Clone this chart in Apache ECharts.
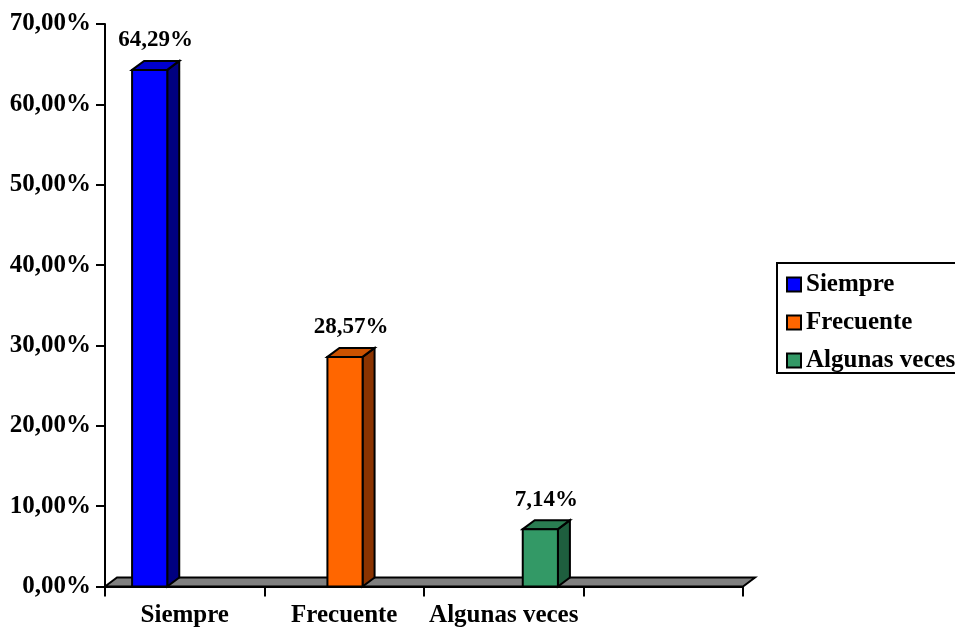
<!DOCTYPE html>
<html>
<head>
<meta charset="utf-8">
<script src="https://cdn.jsdelivr.net/npm/echarts@6/dist/echarts.min.js"></script>
<style>
  html, body { margin: 0; padding: 0; background: #ffffff; }
  #chart { width: 955px; height: 630px; }
</style>
</head>
<body>
<div id="chart"></div>
<script>
// Response categories and their shares (percent)
const categories = ['Siempre', 'Frecuente', 'Algunas veces'];
const values = [64.29, 28.57, 7.14];
// Axis slots along the floor (the last one is left empty)
const axisSlots = ['Siempre', 'Frecuente', 'Algunas veces', ''];
// Face colours of each column: front, side, top
const frontColors = ['#0000FF', '#FF6600', '#339966'];
const sideColors = ['#000080', '#8A3300', '#1E5E3E'];
const topColors = ['#0000CC', '#CC5200', '#2A7D52'];

const FONT = '"Times New Roman", "Liberation Serif", serif';
const DX = 12, DY = 9; // depth offset of the 3D look

function pct(v) {
  return v.toFixed(2).replace('.', ',') + '%';
}

const chart = echarts.init(document.getElementById('chart'));

// Grey floor drawn along the value 0 line of the visible axes
const floorSeries = {
  type: 'custom',
  xAxisIndex: 0,
  yAxisIndex: 0,
  silent: true,
  z: 1,
  data: [[0, 0]],
  renderItem: function (params, api) {
    const cs = params.coordSys;
    const base = api.coord([0, 0])[1];
    const x0 = cs.x, x1 = cs.x + cs.width;
    return {
      type: 'polygon',
      shape: { points: [[x0, base], [x0 + DX, base - DY], [x1 + DX, base - DY], [x1, base]] },
      style: { fill: '#808080', stroke: '#000000', lineWidth: 2 }
    };
  }
};

// One 3D column per category
const barSeries = categories.map(function (name, i) {
  return {
    type: 'custom',
    name: name,
    xAxisIndex: 1,
    yAxisIndex: 1,
    z: 2,
    itemStyle: { color: frontColors[i] },
    data: [[name, values[i]]],
    renderItem: function (params, api) {
      const idx = api.value(0);
      const val = api.value(1);
      const topPt = api.coord([idx, val]);
      const basePt = api.coord([idx, 0]);
      const hw = api.size([1, 0])[0] * 0.18 / 2;
      const xl = topPt[0] - hw, xr = topPt[0] + hw;
      const top = topPt[1], base = basePt[1];
      const stroke = { stroke: '#000000', lineWidth: 2, lineJoin: 'miter' };
      return {
        type: 'group',
        children: [
          {
            type: 'polygon',
            shape: { points: [[xr, top], [xr + DX, top - DY], [xr + DX, base - DY], [xr, base]] },
            style: Object.assign({ fill: sideColors[i] }, stroke)
          },
          {
            type: 'polygon',
            shape: { points: [[xl, top], [xl + DX, top - DY], [xr + DX, top - DY], [xr, top]] },
            style: Object.assign({ fill: topColors[i] }, stroke)
          },
          {
            type: 'rect',
            shape: { x: xl, y: top, width: xr - xl, height: base - top },
            style: Object.assign({ fill: frontColors[i] }, stroke)
          },
          {
            type: 'text',
            style: {
              x: topPt[0] + DX / 2,
              y: top - DY - 9,
              text: pct(val),
              fill: '#000000',
              font: 'bold 23px ' + FONT,
              textAlign: 'center',
              textVerticalAlign: 'bottom'
            }
          }
        ]
      };
    }
  };
});

const option = {
  backgroundColor: '#ffffff',
  animation: false,
  legend: {
    orient: 'vertical',
    left: 777,
    top: 263,
    padding: [9, 20, 0, 9],
    itemGap: 13,
    itemWidth: 14,
    itemHeight: 14,
    borderColor: '#000000',
    borderWidth: 2,
    backgroundColor: '#ffffff',
    textStyle: { fontFamily: FONT, fontWeight: 'bold', fontSize: 25, color: '#000000', lineHeight: 25 },
    data: categories.map(function (name, i) {
      return {
        name: name,
        icon: 'rect',
        itemStyle: { color: frontColors[i], borderColor: '#000000', borderWidth: 2 }
      };
    })
  },
  grid: [
    { left: 105, right: 212, top: 24, bottom: 43.5 },
    { left: 52, right: 317, top: 24, bottom: 43.5 }
  ],
  xAxis: [
    {
      type: 'category',
      gridIndex: 0,
      data: axisSlots,
      boundaryGap: true,
      axisLine: { show: true, lineStyle: { color: '#000000', width: 2 } },
      axisTick: { show: true, interval: 0, length: 10, lineStyle: { color: '#000000', width: 2 } },
      axisLabel: {
        interval: 0,
        margin: 17,
        fontFamily: FONT,
        fontWeight: 'bold',
        fontSize: 25,
        color: '#000000'
      },
      splitLine: { show: false }
    },
    {
      type: 'category',
      gridIndex: 1,
      data: categories,
      show: false
    }
  ],
  yAxis: [
    {
      type: 'value',
      gridIndex: 0,
      min: 0,
      max: 70,
      interval: 10,
      axisLine: { show: true, lineStyle: { color: '#000000', width: 2 } },
      axisTick: { show: true, length: 9, lineStyle: { color: '#000000', width: 2 } },
      axisLabel: {
        margin: 14,
        formatter: function (v) { return pct(v); },
        fontFamily: FONT,
        fontWeight: 'bold',
        fontSize: 25,
        color: '#000000'
      },
      splitLine: { show: false }
    },
    {
      type: 'value',
      gridIndex: 1,
      min: 0,
      max: 70,
      interval: 10,
      show: false,
      splitLine: { show: false }
    }
  ],
  series: [floorSeries].concat(barSeries)
};

chart.setOption(option);
</script>
</body>
</html>
